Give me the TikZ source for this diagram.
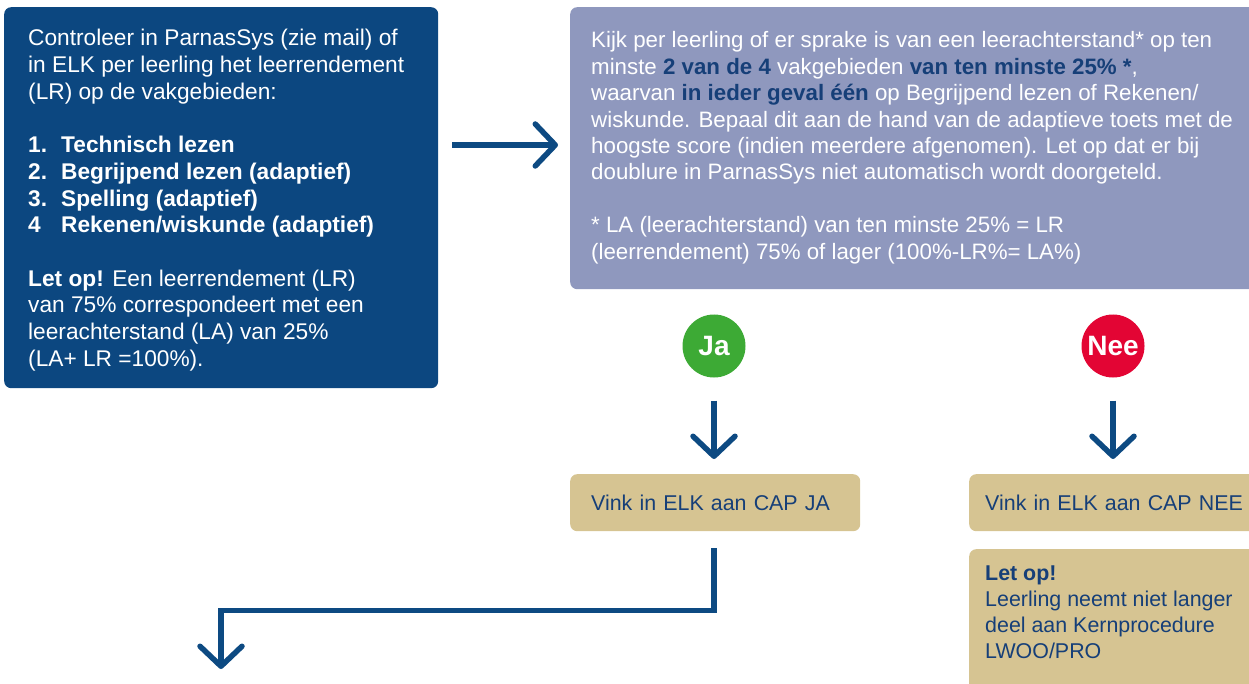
\documentclass[tikz,border=0pt]{standalone}
\usepackage{fontspec}
\setmainfont{Liberation Sans}
\usetikzlibrary{arrows.meta}
\definecolor{navy}{HTML}{0C4780}
\definecolor{lav}{HTML}{8F98BE}
\definecolor{tanbox}{HTML}{D6C492}
\definecolor{okgreen}{HTML}{3DAA35}
\definecolor{nored}{HTML}{E30534}
\definecolor{ink}{HTML}{163F78}
\definecolor{linecol}{HTML}{0D4A82}
\newcommand{\hlb}[1]{\textbf{\color{ink}#1}}
\newcommand{\itm}[2]{\textbf{\makebox[33pt][l]{#1}#2}}
\begin{document}
\begin{tikzpicture}[x=1pt,y=-1pt,
  box/.style={rounded corners=7pt, inner sep=0pt, anchor=north west},
  txt/.style={anchor=base west, inner sep=0pt},
  arr/.style={draw=linecol, line width=5.5pt, line join=miter,
    -{Straight Barb[length=20pt,width=42pt,line cap=round,line join=round]}},
  badge/.style={circle, minimum size=63pt, inner sep=0pt, text=white,
    font=\bfseries\fontsize{28}{30}\selectfont},
  tanstyle/.style={box, fill=tanbox, text=ink, align=left,
    font=\fontsize{21.4}{26}\selectfont}]
\useasboundingbox (0,0) rectangle (1249,684);
\clip (0,0) rectangle (1249,684);

% left box
\node[box, fill=navy, minimum width=434pt, minimum height=381pt] (lbox) at (4,7) {};
\node[txt, text=white] (ltext) at (28,46) {\begin{minipage}[t]{405pt}\raggedright
\fontsize{22.7}{26.7}\selectfont
Controleer in ParnasSys (zie mail) of\\
in ELK per leerling het leerrendement\\
(LR) op de vakgebieden:\par\vspace{26.7pt}
\itm{1.}{Technisch lezen}\\
\itm{2.}{Begrijpend lezen (adaptief)}\\
\itm{3.}{Spelling (adaptief)}\\
\itm{4}{Rekenen/wiskunde (adaptief)}\par\vspace{26.7pt}
\textbf{Let op!} Een leerrendement (LR)\\
van 75\% correspondeert met een\\
leerachterstand (LA) van 25\%\\
(LA+ LR =100\%).
\end{minipage}};

% right box
\node[box, fill=lav, minimum width=700pt, minimum height=282pt] (rbox) at (570,7) {};
\node[txt, text=white] (rtext) at (591,48) {\begin{minipage}[t]{650pt}\raggedright
\fontsize{22.3}{26.4}\selectfont
Kijk per leerling of er sprake is van een leerachterstand* op ten\\
minste \hlb{2 van de 4} vakgebieden \hlb{van ten minste 25\% *},\\
waarvan \hlb{in ieder geval één} op Begrijpend lezen of Rekenen/\\
wiskunde. Bepaal dit aan de hand van de adaptieve toets met de\\
hoogste score (indien meerdere afgenomen). Let op dat er bij\\
doublure in ParnasSys niet automatisch wordt doorgeteld.\par\vspace{26.4pt}
* LA (leerachterstand) van ten minste 25\% = LR\\
(leerrendement) 75\% of lager (100\%-LR\%= LA\%)
\end{minipage}};

% badges
\node[badge, fill=okgreen] (ja) at (714,346) {Ja};
\node[badge, fill=nored] (nee) at (1113,346) {Nee};

% tan boxes
\node[tanstyle, minimum width=290pt, minimum height=57pt, text width=290pt] (vja) at (570,474) {\hspace*{21pt}Vink in ELK aan CAP JA};
\node[tanstyle, minimum width=300pt, minimum height=57pt, text width=300pt] (vnee) at (969,474) {\hspace*{16pt}Vink in ELK aan CAP NEE};
\node[box, fill=tanbox, minimum width=300pt, minimum height=160pt] (letop) at (969,549) {};
\node[txt, text=ink] (letoptext) at (985,580) {\begin{minipage}[t]{270pt}\raggedright
\fontsize{21.4}{26}\selectfont
\textbf{Let op!}\\
Leerling neemt niet langer\\
deel aan Kernprocedure\\
LWOO/PRO
\end{minipage}};

% connectors
\coordinate (endc) at (221,669);
\draw[arr, shorten <=14pt, shorten >=12pt] (lbox.east |- 0,145) -- (rbox.west |- 0,145);
\draw[arr, shorten <=23pt, shorten >=15pt] (ja.south) -- (ja.south |- vja.north);
\draw[arr, shorten <=23pt, shorten >=15pt] (nee.south) -- (nee.south |- vnee.north);
\draw[arr] ([yshift=-17pt]ja.south |- vja.south) -- ++(0,62) -| (endc);
\end{tikzpicture}
\end{document}
